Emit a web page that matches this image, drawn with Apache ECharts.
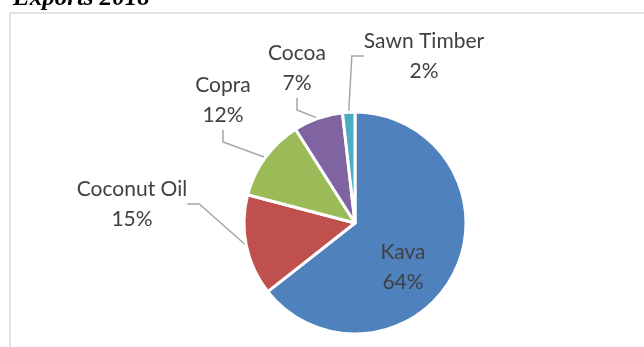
<!DOCTYPE html>
<html>
<head>
<meta charset="utf-8">
<script src="https://cdn.jsdelivr.net/npm/echarts@6/dist/echarts.min.js"></script>
<style>
  html, body { margin: 0; padding: 0; background: #fff; }
  #main { width: 644px; height: 347px; }
</style>
</head>
<body>
<div id="main"></div>
<script>
  // export shares (labels show them rounded)
  var categories = ['Kava', 'Coconut Oil', 'Copra', 'Cocoa', 'Sawn Timber'];
  var shares = [64.4, 14.7, 11.9, 7.2, 1.8];
  var colors = ['#4f81bd', '#c0504d', '#9bbb59', '#8064a2', '#4bacc6'];

  // where Excel put each label (centre of the two-line text)
  var labelPos = [[403, 267], [132, 204], [223, 100], [297, 68], [424, 56]];

  var pieData = [];
  for (var i = 0; i < categories.length; i++) {
    var item = { name: categories[i], value: shares[i], itemStyle: { color: colors[i] } };
    if (i === 0) {
      item.labelLine = { show: false };
    }
    pieData.push(item);
  }

  var chart = echarts.init(document.getElementById('main'));
  chart.setOption({
    animation: false,
    title: {
      text: 'Exports 2018',
      left: 8,
      top: -19,
      textStyle: {
        fontFamily: 'Liberation Serif',
        fontStyle: 'italic',
        fontWeight: 'bold',
        fontSize: 25,
        color: '#000'
      }
    },
    graphic: [
      {
        type: 'rect',
        shape: { x: 10, y: 13, width: 700, height: 400 },
        style: { fill: 'none', stroke: '#d9d9d9', lineWidth: 1.5 },
        silent: true
      }
    ],
    series: [
      {
        type: 'pie',
        center: [355, 223],
        radius: 111,
        startAngle: 90,
        clockwise: true,
        percentPrecision: 0,
        avoidLabelOverlap: false,
        itemStyle: { borderColor: '#fff', borderWidth: 3 },
        label: {
          show: true,
          position: 'outside',
          formatter: '{b}\n{d}%',
          fontFamily: 'Lato',
          fontSize: 21,
          lineHeight: 30,
          color: '#404040',
          align: 'center'
        },
        labelLine: {
          show: true,
          length: 10,
          length2: 12,
          lineStyle: { color: '#a6a6a6', width: 1.5 }
        },
        labelLayout: function (params) {
          var p = labelPos[params.dataIndex];
          return { x: p[0], y: p[1], align: 'center', verticalAlign: 'middle' };
        },
        data: pieData
      }
    ]
  });
</script>
</body>
</html>
